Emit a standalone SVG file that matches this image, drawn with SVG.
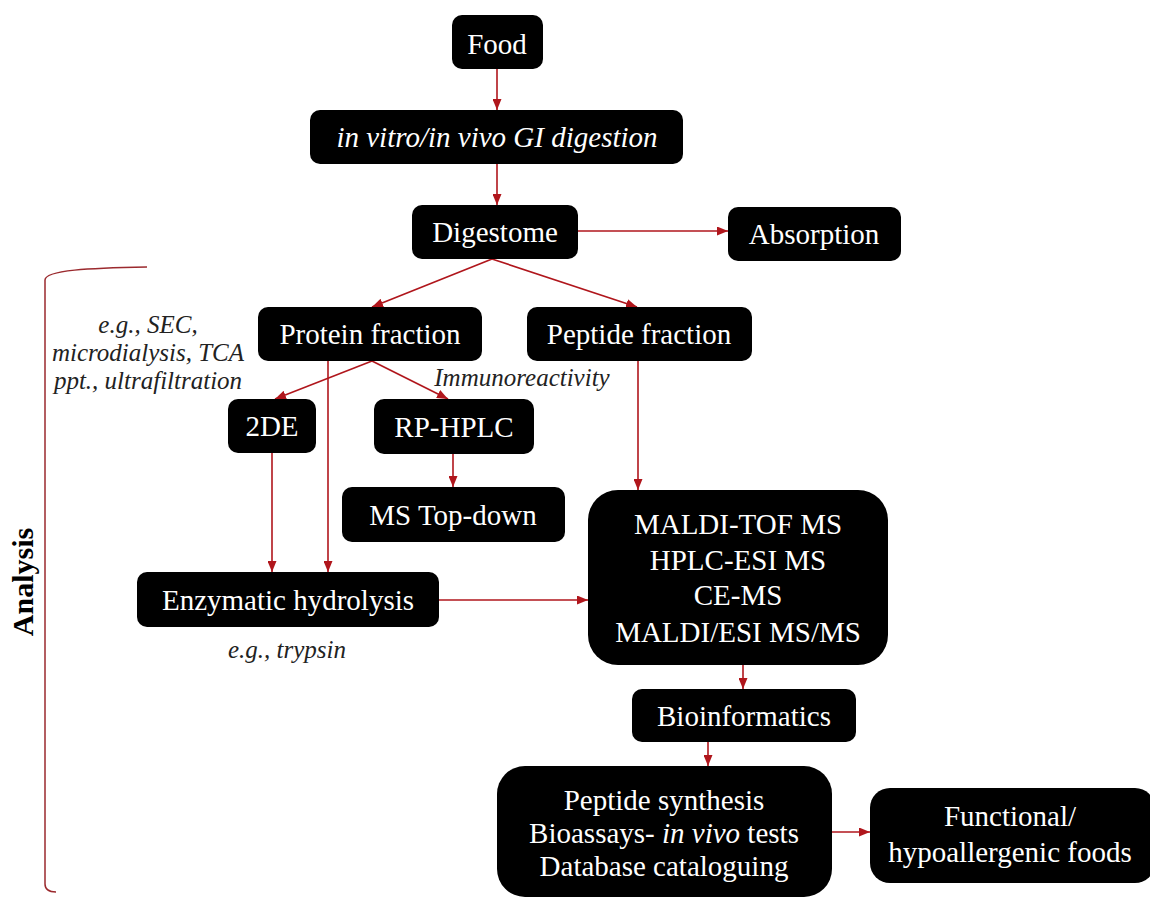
<svg xmlns="http://www.w3.org/2000/svg" width="1150" height="897" viewBox="0 0 1150 897">
<style>
.box{fill:#000;}
.t{font-size:29px;fill:#fff;text-anchor:middle;}
.ti{font-style:italic;}
.lbl{font-size:25px;font-style:italic;fill:#222;text-anchor:middle;}
.c{stroke:#b0161c;stroke-width:1.6;fill:none;marker-end:url(#ah);}
</style>
<defs>
<marker id="ah" markerUnits="userSpaceOnUse" markerWidth="11" markerHeight="9" refX="11" refY="4.5" orient="auto">
<path d="M0,0 L11,4.5 L0,9 z" fill="#b0161c"/>
</marker>
</defs>
<rect width="1150" height="897" fill="#fff"/>

<g id="bracket">
<path d="M147,267 C90,268 45,270 45,280 L45,884 Q45,892 56,892" stroke="#9b2a2e" stroke-width="1.5" fill="none"/>
<text transform="translate(33,582) rotate(-90)" font-family="Liberation Serif, serif" font-size="30" font-weight="bold" text-anchor="middle" fill="#000">Analysis</text>
</g>

<g id="connectors">
<line class="c" x1="497" y1="69" x2="497" y2="110"/>
<line class="c" x1="497" y1="164" x2="497" y2="205"/>
<line class="c" x1="578" y1="231" x2="728" y2="231"/>
<line class="c" x1="492" y1="259" x2="372" y2="307"/>
<line class="c" x1="492" y1="259" x2="637" y2="307"/>
<line class="c" x1="372" y1="361" x2="275" y2="399"/>
<line class="c" x1="372" y1="361" x2="448" y2="399"/>
<line class="c" x1="328" y1="361" x2="328" y2="572"/>
<line class="c" x1="272" y1="453" x2="272" y2="572"/>
<line class="c" x1="453" y1="454" x2="453" y2="487"/>
<line class="c" x1="638" y1="361" x2="638" y2="490"/>
<line class="c" x1="439" y1="600" x2="588" y2="600"/>
<line class="c" x1="743" y1="665" x2="743" y2="689"/>
<line class="c" x1="708" y1="742" x2="708" y2="766"/>
<line class="c" x1="832" y1="832" x2="870" y2="832"/>
</g>

<g id="food"><rect class="box" x="452" y="15" width="91" height="54" rx="10"/><text class="t" font-family="Liberation Serif, serif" x="497" y="54">Food</text></g>
<g id="digestion"><rect class="box" x="310" y="110" width="373" height="54" rx="10"/><text class="t ti" font-family="Liberation Serif, serif" x="497" y="147">in vitro/in vivo GI digestion</text></g>
<g id="digestome"><rect class="box" x="412" y="205" width="166" height="54" rx="10"/><text class="t" font-family="Liberation Serif, serif" x="495" y="242">Digestome</text></g>
<g id="absorption"><rect class="box" x="728" y="207" width="173" height="54" rx="10"/><text class="t" font-family="Liberation Serif, serif" x="814" y="244">Absorption</text></g>
<g id="protein"><rect class="box" x="258" y="307" width="224" height="54" rx="10"/><text class="t" font-family="Liberation Serif, serif" x="370" y="344">Protein fraction</text></g>
<g id="peptide"><rect class="box" x="527" y="307" width="225" height="54" rx="10"/><text class="t" font-family="Liberation Serif, serif" x="639" y="344">Peptide fraction</text></g>
<g id="twode"><rect class="box" x="228" y="399" width="88" height="54" rx="10"/><text class="t" font-family="Liberation Serif, serif" x="272" y="436">2DE</text></g>
<g id="rphplc"><rect class="box" x="374" y="399" width="160" height="55" rx="10"/><text class="t" font-family="Liberation Serif, serif" x="454" y="437">RP-HPLC</text></g>
<g id="topdown"><rect class="box" x="342" y="487" width="223" height="55" rx="10"/><text class="t" font-family="Liberation Serif, serif" x="453" y="525">MS Top-down</text></g>
<g id="maldi"><rect class="box" x="588" y="490" width="300" height="175" rx="30"/>
<text class="t" font-family="Liberation Serif, serif" x="738" y="534">MALDI-TOF  MS</text>
<text class="t" font-family="Liberation Serif, serif" x="738" y="570">HPLC-ESI MS</text>
<text class="t" font-family="Liberation Serif, serif" x="738" y="605">CE-MS</text>
<text class="t" font-family="Liberation Serif, serif" x="738" y="642">MALDI/ESI MS/MS</text></g>
<g id="enzymatic"><rect class="box" x="137" y="572" width="302" height="55" rx="10"/><text class="t" font-family="Liberation Serif, serif" x="288" y="610">Enzymatic hydrolysis</text></g>
<g id="bioinformatics"><rect class="box" x="632" y="689" width="224" height="53" rx="10"/><text class="t" font-family="Liberation Serif, serif" x="744" y="726">Bioinformatics</text></g>
<g id="synthesis"><rect class="box" x="497" y="766" width="335" height="131" rx="28"/>
<text class="t" font-family="Liberation Serif, serif" x="664" y="810">Peptide synthesis</text>
<text class="t" font-family="Liberation Serif, serif" x="664" y="843">Bioassays- <tspan class="ti">in vivo</tspan> tests</text>
<text class="t" font-family="Liberation Serif, serif" x="664" y="876">Database cataloguing</text></g>
<g id="functional"><rect class="box" x="870" y="788" width="285" height="95" rx="20"/>
<text class="t" font-family="Liberation Serif, serif" x="1010" y="826">Functional/</text>
<text class="t" font-family="Liberation Serif, serif" x="1010" y="862">hypoallergenic foods</text></g>

<g id="labels" font-family="Liberation Serif, serif">
<text class="lbl" x="148" y="333">e.g., SEC,</text>
<text class="lbl" x="148" y="361">microdialysis, TCA</text>
<text class="lbl" x="148" y="389">ppt., ultrafiltration</text>
<text class="lbl" x="522" y="386">Immunoreactivity</text>
<text class="lbl" x="287" y="658">e.g., trypsin</text>
</g>
</svg>
